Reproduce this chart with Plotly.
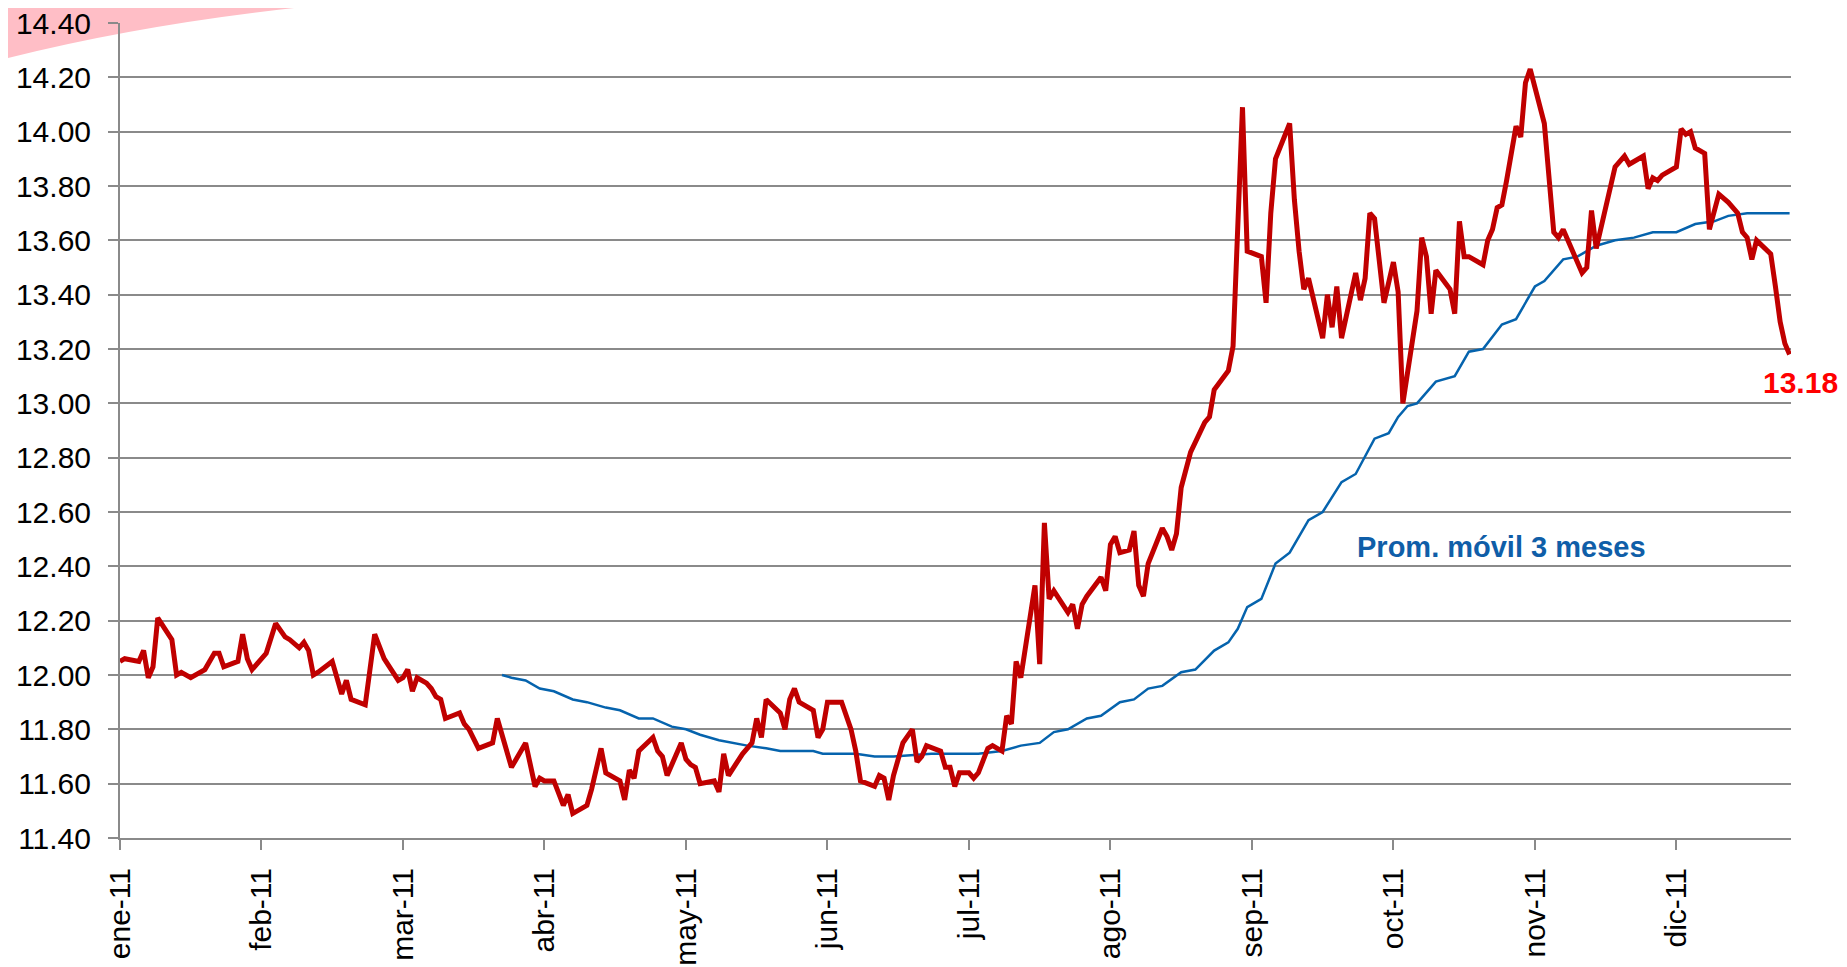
import plotly.graph_objects as go

# ---------------- data (x = day index, 30 per month on the category axis) -------------
month_labels = ["ene-11", "feb-11", "mar-11", "abr-11", "may-11", "jun-11",
                "jul-11", "ago-11", "sep-11", "oct-11", "nov-11", "dic-11"]
month_days = [0, 30, 60, 90, 120, 150, 180, 210, 240, 270, 300, 330]

red_day = [0, 1, 4, 5, 6, 7, 8, 11, 12, 13, 15, 18, 20, 21, 22, 25, 26, 27, 28, 31,
           33, 35, 36, 38, 39, 40, 41, 42, 45, 46, 47, 48, 49, 52, 54, 56, 59, 60, 61, 62,
           63, 65, 66, 67, 68, 69, 72, 73, 74, 76, 79, 80, 82, 83, 86, 88, 89, 90, 92, 94,
           95, 96, 99, 100, 102, 103, 106, 107, 108, 109, 110, 113, 114, 115, 116, 119, 120, 121, 122, 123,
           126, 127, 128, 129, 132, 134, 135, 136, 137, 140, 141, 142, 143, 144, 147, 148, 149, 150, 153, 155,
           156, 157, 160, 161, 162, 163, 164, 166, 168, 169, 170, 171, 174, 175, 176, 177, 178, 180, 181, 182,
           184, 185, 187, 188, 189, 190, 191, 194, 195, 196, 197, 198, 201, 202, 203, 204, 205, 208, 209, 210,
           211, 212, 214, 215, 216, 217, 218, 221, 222, 223, 224, 225, 227, 230, 231, 232, 235, 236, 238, 239,
           242, 243, 244, 245, 248, 249, 250, 251, 252, 255, 256, 257, 258, 259, 262, 263, 264, 265, 266, 268,
           270, 271, 272, 275, 276, 277, 278, 279, 282, 283, 284, 285, 286, 289, 290, 291, 292, 293, 294, 296,
           297, 298, 299, 302, 304, 305, 306, 310, 311, 312, 313, 316, 317, 319, 320, 323, 324, 325, 326, 327,
           330, 331, 332, 333, 334, 336, 337, 339, 341, 343, 344, 345, 346, 347, 350, 351, 352, 353, 354]
red_val = [12.05, 12.06, 12.05, 12.09, 11.99, 12.03, 12.21, 12.13, 12.00, 12.01, 11.99, 12.02, 12.08, 12.08, 12.03, 12.05, 12.15, 12.06, 12.02, 12.08,
           12.19, 12.14, 12.13, 12.10, 12.12, 12.09, 12.00, 12.01, 12.05, 11.99, 11.93, 11.98, 11.91, 11.89, 12.15, 12.06, 11.98, 11.99, 12.02, 11.94,
           11.99, 11.97, 11.95, 11.92, 11.91, 11.84, 11.86, 11.82, 11.80, 11.73, 11.75, 11.84, 11.71, 11.66, 11.75, 11.59, 11.62, 11.61, 11.61, 11.52,
           11.56, 11.49, 11.52, 11.58, 11.73, 11.64, 11.61, 11.54, 11.65, 11.62, 11.72, 11.77, 11.72, 11.70, 11.63, 11.75, 11.69, 11.67, 11.66, 11.60,
           11.61, 11.57, 11.71, 11.63, 11.71, 11.75, 11.84, 11.77, 11.91, 11.86, 11.80, 11.91, 11.95, 11.90, 11.87, 11.77, 11.80, 11.90, 11.90, 11.80,
           11.72, 11.61, 11.59, 11.63, 11.62, 11.54, 11.63, 11.75, 11.80, 11.68, 11.70, 11.74, 11.72, 11.66, 11.66, 11.59, 11.64, 11.64, 11.62, 11.64,
           11.73, 11.74, 11.72, 11.85, 11.82, 12.05, 11.99, 12.33, 12.04, 12.56, 12.28, 12.31, 12.23, 12.26, 12.17, 12.26, 12.29, 12.36, 12.31, 12.48,
           12.51, 12.45, 12.46, 12.53, 12.33, 12.29, 12.41, 12.54, 12.51, 12.46, 12.52, 12.69, 12.82, 12.93, 12.95, 13.05, 13.12, 13.21, 14.09, 13.56,
           13.54, 13.37, 13.70, 13.90, 14.03, 13.75, 13.56, 13.42, 13.46, 13.24, 13.40, 13.28, 13.43, 13.24, 13.48, 13.38, 13.46, 13.70, 13.68, 13.37,
           13.52, 13.41, 13.00, 13.34, 13.61, 13.54, 13.33, 13.49, 13.42, 13.33, 13.67, 13.54, 13.54, 13.51, 13.60, 13.64, 13.72, 13.73, 13.82, 14.02,
           13.98, 14.18, 14.23, 14.03, 13.63, 13.61, 13.64, 13.48, 13.50, 13.71, 13.57, 13.81, 13.87, 13.91, 13.88, 13.91, 13.79, 13.83, 13.82, 13.84,
           13.87, 14.01, 13.99, 14.00, 13.94, 13.92, 13.64, 13.77, 13.74, 13.70, 13.63, 13.61, 13.53, 13.60, 13.55, 13.43, 13.30, 13.22, 13.18]

ma_day = [81, 83, 86, 89, 92, 96, 99, 103, 106, 110, 113, 117, 120, 123, 127, 130, 133, 137, 140, 147,
          149, 156, 160, 164, 172, 182, 187, 191, 195, 198, 201, 205, 208, 212, 215, 218, 221, 225, 228, 232,
          235, 237, 239, 242, 245, 248, 252, 255, 259, 262, 266, 269, 271, 273, 275, 279, 283, 286, 289, 293,
          296, 300, 302, 306, 309, 313, 317, 321, 325, 330, 334, 338, 341, 345, 348, 352, 354]
ma_val = [12.00, 11.99, 11.98, 11.95, 11.94, 11.91, 11.90, 11.88, 11.87, 11.84, 11.84, 11.81, 11.80, 11.78, 11.76, 11.75, 11.74, 11.73, 11.72, 11.72,
          11.71, 11.71, 11.70, 11.70, 11.71, 11.71, 11.72, 11.74, 11.75, 11.79, 11.80, 11.84, 11.85, 11.90, 11.91, 11.95, 11.96, 12.01, 12.02, 12.09,
          12.12, 12.17, 12.25, 12.28, 12.41, 12.45, 12.57, 12.60, 12.71, 12.74, 12.87, 12.89, 12.95, 12.99, 13.00, 13.08, 13.10, 13.19, 13.20, 13.29,
          13.31, 13.43, 13.45, 13.53, 13.54, 13.58, 13.60, 13.61, 13.63, 13.63, 13.66, 13.67, 13.69, 13.70, 13.70, 13.70, 13.70]

ma_label = "Prom. móvil 3 meses"
ma_label_day = 293
ma_label_val = 12.47

y_ticks = [11.40, 11.60, 11.80, 12.00, 12.20, 12.40, 12.60, 12.80, 13.00, 13.20, 13.40, 13.60,
           13.80, 14.00, 14.20, 14.40]

# ---------------- figure ----------------
FONT = "Liberation Sans, Arial, sans-serif"
GRID = "#8a8a8a"
RED = "#C00000"
BLUE = "#0563AD"

fig = go.Figure()
fig.add_trace(go.Scatter(x=ma_day, y=ma_val, mode="lines",
                         line=dict(color=BLUE, width=2.5), hoverinfo="skip", cliponaxis=False))
fig.add_trace(go.Scatter(x=red_day, y=red_val, mode="lines",
                         line=dict(color=RED, width=5), hoverinfo="skip", cliponaxis=False))

fig.add_annotation(x=ma_label_day, y=ma_label_val, text="<b>%s</b>" % ma_label,
                   showarrow=False, font=dict(family=FONT, size=29, color="#0F5EA8"),
                   xanchor="center", yanchor="middle")
fig.add_annotation(x=red_day[-1], y=red_val[-1], text="<b>%.2f</b>" % red_val[-1],
                   showarrow=False, font=dict(family=FONT, size=30, color="#FF0000"),
                   xanchor="center", yanchor="middle", xshift=11, yshift=-28)

# decorative pink swoosh in top-left corner
fig.add_shape(type="path", xref="paper", yref="paper", layer="below",
              path="M -0.0718,1.04 L 0.155,1.04 L 0.155,1.0282 Q 0.03,1.008 -0.0718,0.9546 Z",
              fillcolor="rgb(255,190,198)", line=dict(width=0))

fig.update_layout(
    width=1839, height=959,
    margin=dict(l=112, r=56, t=15, b=129),
    paper_bgcolor="white", plot_bgcolor="white",
    showlegend=False,
    font=dict(family=FONT, size=30, color="black"),
    xaxis=dict(range=[0, 354.3], tickmode="array", tickvals=month_days, ticktext=month_labels,
               tickangle=-90, ticks="outside", ticklen=10, tickwidth=2, tickcolor=GRID,
               showline=True, linecolor=GRID, linewidth=2, showgrid=False, zeroline=False,
               automargin=False, ticklabeloverflow="allow",
               tickfont=dict(family=FONT, size=30, color="black"), ticklabelstandoff=6),
    yaxis=dict(range=[11.40, 14.40], tickmode="array", tickvals=y_ticks,
               ticktext=["%.2f" % v for v in y_ticks],
               ticks="outside", ticklen=10, tickwidth=2, tickcolor=GRID,
               showline=True, linecolor=GRID, linewidth=2, showgrid=True, gridcolor=GRID,
               gridwidth=2, zeroline=False, automargin=False, ticklabeloverflow="allow",
               tickfont=dict(family=FONT, size=30, color="black"), ticklabelstandoff=11),
)

fig.write_html("out.html")
